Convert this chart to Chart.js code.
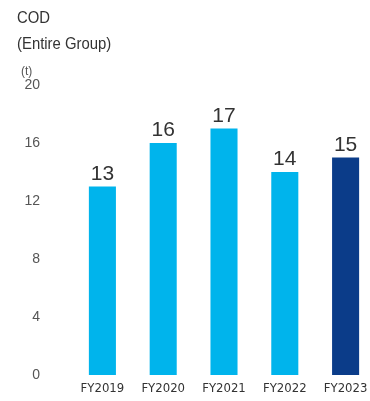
<!DOCTYPE html>
<html>
<head>
<meta charset="utf-8">
<script src="https://cdn.jsdelivr.net/npm/chart.js@4/dist/chart.umd.min.js"></script>
<style>
  html, body { margin: 0; padding: 0; background: #fff; overflow: hidden; }
  #wrap { position: relative; width: 370px; height: 401px; overflow: hidden; }
  #grafico { position: absolute; left: 0; top: 0; }
  .t { position: absolute; color: #333; font-family: "Liberation Sans", Arial, sans-serif; white-space: nowrap; transform-origin: 0 0; transform: scaleX(0.875); }
</style>
</head>
<body>
<div id="wrap">
  <canvas id="grafico" width="380" height="401"></canvas>
  <div class="t" style="left:17px; top:8px; font-size:17px;">COD</div>
  <div class="t" style="left:17px; top:34px; font-size:17px;">(Entire Group)</div>
  <div class="t" style="left:21px; top:64px; font-size:12px; color:#555; transform:none;">(t)</div>
</div>
<script>
const years = ['FY2019', 'FY2020', 'FY2021', 'FY2022', 'FY2023'];
const cod = [13, 16, 17, 14, 15];
const yTicks = [0, 4, 8, 12, 16, 20];

const claro = '#00B4EC';
const oscuro = '#0B3C89';

// etiqueta de valor encima de cada barra
const etiquetas = {
  id: 'etiquetas',
  afterDatasetsDraw(chart) {
    const ctx = chart.ctx;
    const meta = chart.getDatasetMeta(0);
    ctx.save();
    ctx.font = '21px "Liberation Sans", Arial, sans-serif';
    ctx.fillStyle = '#333';
    ctx.textAlign = 'center';
    ctx.textBaseline = 'alphabetic';
    meta.data.forEach((bar, i) => {
      ctx.fillText(String(cod[i]), bar.x, bar.y - 7);
    });
    ctx.restore();
  }
};

new Chart(document.getElementById('grafico'), {
  type: 'bar',
  data: {
    labels: years,
    datasets: [{
      data: cod,
      backgroundColor: cod.map((v, i) => i === cod.length - 1 ? oscuro : claro),
      categoryPercentage: 1,
      barPercentage: 0.445
    }]
  },
  options: {
    responsive: false,
    animation: false,
    layout: { padding: { top: 85, right: 4, left: 0, bottom: 0 } },
    plugins: { legend: { display: false }, tooltip: { enabled: false } },
    scales: {
      x: {
        grid: { display: false, drawTicks: false },
        border: { display: false },
        ticks: {
          color: '#333',
          padding: 6,
          font: { family: '"DejaVu Sans Condensed", sans-serif', size: 13 }
        },
        afterFit: s => { s.height = 26; }
      },
      y: {
        min: 0,
        max: 20,
        afterBuildTicks: s => { s.ticks = yTicks.map(v => ({ value: v })); },
        grid: { display: false, drawTicks: false },
        border: { display: false },
        ticks: {
          color: '#555',
          padding: 32,
          font: { family: '"Liberation Sans", Arial, sans-serif', size: 14 }
        },
        // el padding grande solo separa las etiquetas, no debe empujar el área
        afterFit: s => {
          s.width = 72;
          s.paddingTop = 8;
          s.paddingBottom = 8;
        }
      }
    }
  },
  plugins: [etiquetas]
});
</script>
</body>
</html>
